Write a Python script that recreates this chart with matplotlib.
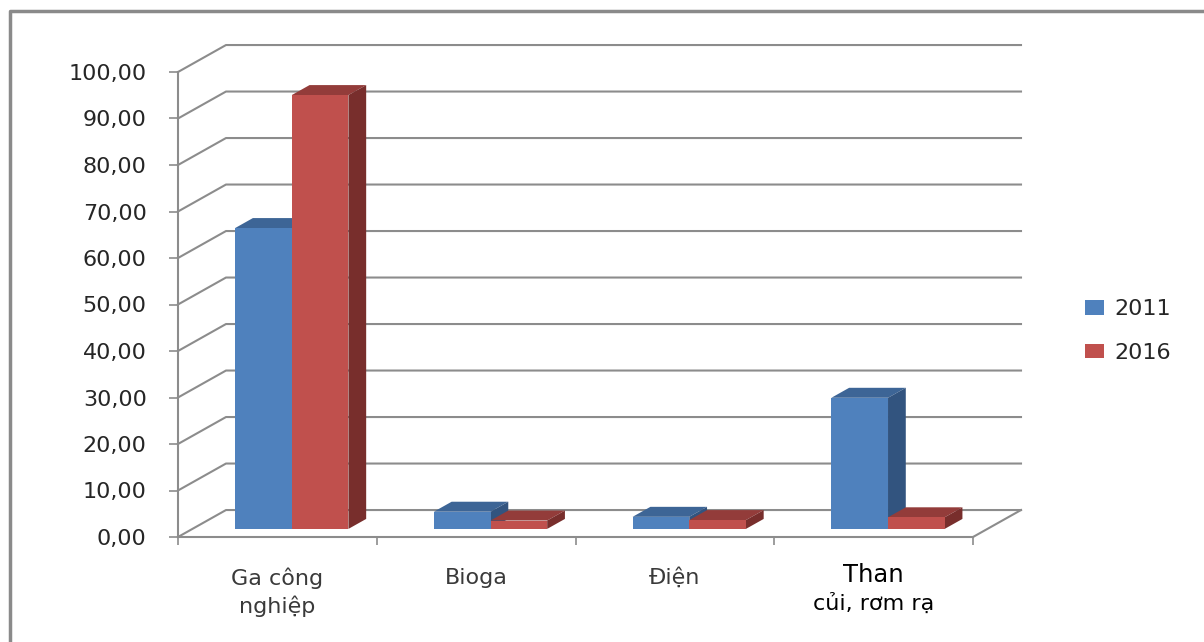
import matplotlib
matplotlib.use("Agg")
import matplotlib.pyplot as plt
from matplotlib.patches import Polygon
from matplotlib.lines import Line2D
from matplotlib.ticker import FuncFormatter, MultipleLocator

# ---- data -------------------------------------------------------------
categories = ["Ga công\nnghiệp", "Bioga", "Điện", "Than\ncủi, rơm rạ"]
series_names = ["2011", "2016"]
values_2011 = [64.7, 3.7, 2.6, 28.2]
values_2016 = [93.3, 1.8, 1.9, 2.5]
y_ticks = [0, 10, 20, 30, 40, 50, 60, 70, 80, 90, 100]

# ---- style ------------------------------------------------------------
front_colors = ["#4F81BD", "#C0504D"]
top_colors = ["#3D6596", "#933C3A"]
side_colors = ["#32547F", "#782E2C"]
grid_color = "#8C8C8C"
label_color = "#3A3A3A"

DX = 0.2415   # depth of the plot box along x (category units)
DY = 5.8      # depth of the plot box along y (value units)
Z0, Z1 = 0.30, 0.67   # front / back depth of the columns
BAR_W = 0.285
HALF_GAP = 0.215

plt.rcParams["font.family"] = ["DejaVu Sans"]

fig = plt.figure(figsize=(12.04, 6.42), dpi=100)
fig.patch.set_facecolor("white")
ax = fig.add_axes([178 / 1204, 1 - 537 / 642, 795 / 1204, 465 / 642])
ax.set_xlim(0, len(categories))
ax.set_ylim(0, 100)
ax.set_facecolor("none")

# outer chart frame (top and left edges)
fig.add_artist(Line2D([10 / 1204, 10 / 1204, 1.0], [0.0, 1 - 11 / 642, 1 - 11 / 642],
                      transform=fig.transFigure, color="#8A8A8A", lw=2.5))


def proj(x, y, z):
    """Oblique projection of a point at depth z (0 = front, 1 = back)."""
    return (x + z * DX, y + z * DY)


n = len(categories)
# back wall and left wall gridlines
for v in y_ticks:
    p0, p1, p2 = proj(0, v, 0), proj(0, v, 1), proj(n, v, 1)
    ax.add_line(Line2D([p0[0], p1[0], p2[0]], [p0[1], p1[1], p2[1]],
                       color=grid_color, lw=1.5, clip_on=False, zorder=1))
# right edge of the floor
f0, f1 = proj(n, 0, 0), proj(n, 0, 1)
ax.add_line(Line2D([f0[0], f1[0]], [f0[1], f1[1]], color=grid_color, lw=1.5,
                   clip_on=False, zorder=1))

# ---- 3D-style columns ---------------------------------------------------
series_values = [values_2011, values_2016]
z = 3
for i in range(n):
    for s, vals in enumerate(series_values):
        v = vals[i]
        x0 = i + HALF_GAP + s * BAR_W
        x1 = x0 + BAR_W
        top = [proj(x0, v, Z0), proj(x1, v, Z0), proj(x1, v, Z1), proj(x0, v, Z1)]
        side = [proj(x1, 0, Z0), proj(x1, 0, Z1), proj(x1, v, Z1), proj(x1, v, Z0)]
        ax.add_patch(Polygon(top, closed=True, facecolor=top_colors[s],
                             edgecolor="none", clip_on=False, zorder=z))
        ax.add_patch(Polygon(side, closed=True, facecolor=side_colors[s],
                             edgecolor="none", clip_on=False, zorder=z))
        fx, fy = proj(x0, 0, Z0)
        ax.bar(fx, v, width=BAR_W, bottom=fy, align="edge", color=front_colors[s],
               edgecolor="none", clip_on=False, zorder=z + 0.5,
               label=series_names[s] if i == 0 else None)
        z += 1

# ---- axes --------------------------------------------------------------
for side_name in ["top", "right"]:
    ax.spines[side_name].set_visible(False)
for side_name in ["left", "bottom"]:
    ax.spines[side_name].set_color(grid_color)
    ax.spines[side_name].set_linewidth(1.5)
    ax.spines[side_name].set_zorder(2)

ax.set_yticks(y_ticks)
ax.yaxis.set_major_formatter(FuncFormatter(lambda v, _: f"{v:.2f}".replace(".", ",")))
ax.tick_params(axis="y", direction="out", length=6.5, width=1.2, color=grid_color,
               pad=16, labelsize=16, labelcolor="#262626")
ax.xaxis.set_major_locator(MultipleLocator(1))
ax.tick_params(axis="x", direction="out", length=5.8, width=1.2, color=grid_color,
               labelbottom=False)

# category labels
for i, name in enumerate(categories):
    lines = name.split("\n")
    if i == n - 1:
        ax.text(i + 0.5, -0.082, lines[0], transform=ax.get_xaxis_transform(),
                ha="center", va="center", fontsize=17.5, color="black")
        ax.text(i + 0.5, -0.142, lines[1], transform=ax.get_xaxis_transform(),
                ha="center", va="center", fontsize=16, color="black")
    else:
        for k, line in enumerate(lines):
            ax.text(i + 0.5, -0.088 - 0.06 * k, line, transform=ax.get_xaxis_transform(),
                    ha="center", va="center", fontsize=16, color=label_color)

# legend
leg = fig.legend(loc="center left", bbox_to_anchor=(1065 / 1204, 1 - 331 / 642),
                 frameon=False, fontsize=16, handlelength=0.85, handleheight=0.6,
                 handletextpad=0.45, labelspacing=1.05)
for t in leg.get_texts():
    t.set_color("#262626")

fig.savefig("out.png", dpi=100, facecolor="white")
